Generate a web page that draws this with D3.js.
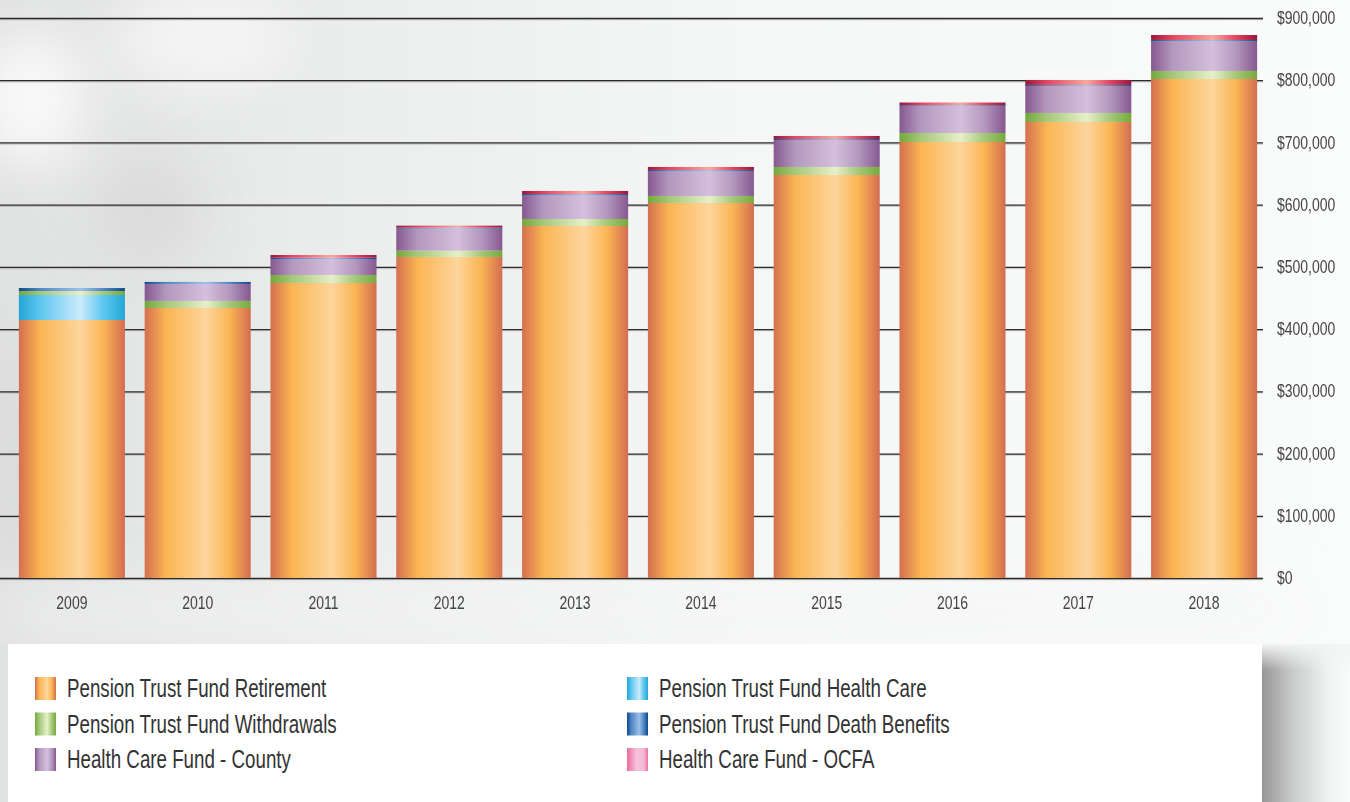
<!DOCTYPE html>
<html>
<head>
<meta charset="utf-8">
<script src="https://cdn.jsdelivr.net/npm/d3@7"></script>
<style>
  html, body { margin: 0; padding: 0; background: #f4f5f5; }
  svg { display: block; }
  text { font-family: "Liberation Sans", Arial, sans-serif; }
</style>
</head>
<body>
<svg id="chart" width="1350" height="802"></svg>
<script>
// Fiscal years shown on the x axis
const years = ["2009", "2010", "2011", "2012", "2013", "2014", "2015", "2016", "2017", "2018"];

// Series values (dollars, in thousands), bottom of the stack first
const retirement   = [414600, 434000, 474100, 516000, 565700, 602700, 647700, 700700, 732900, 802000];
const healthCare   = [40200, 0, 0, 0, 0, 0, 0, 0, 0, 0];
const withdrawals  = [6400, 11300, 12900, 10100, 11300, 11300, 12900, 14500, 14500, 12900];
const hcCounty     = [0, 27300, 25700, 35400, 38600, 40200, 43400, 43400, 43400, 48200];
const deathBenefit = [4800, 3200, 2100, 1600, 1600, 1600, 1600, 1300, 1600, 1600];
const hcOcfa       = [0, 0, 4300, 3200, 4800, 4800, 4800, 4300, 8000, 8000];

// Axis tick values
const yTicks = [0, 100000, 200000, 300000, 400000, 500000, 600000, 700000, 800000, 900000];

const seriesKeys   = ["retirement", "healthCare", "withdrawals", "hcCounty", "deathBenefit", "hcOcfa"];
const seriesValues = { retirement, healthCare, withdrawals, hcCounty, deathBenefit, hcOcfa };
const seriesNames  = {
  retirement: "Pension Trust Fund Retirement",
  healthCare: "Pension Trust Fund Health Care",
  withdrawals: "Pension Trust Fund Withdrawals",
  hcCounty: "Health Care Fund - County",
  deathBenefit: "Pension Trust Fund Death Benefits",
  hcOcfa: "Health Care Fund - OCFA"
};

// Horizontal "cylinder" shading for each series
const barStops = {
  retirement:   [[0, "#d36f4f"], [0.2, "#fbb553"], [0.58, "#fdd59c"], [0.8, "#fbb553"], [1, "#d36d50"]],
  healthCare:   [[0, "#24a6d6"], [0.2, "#5cc7ef"], [0.58, "#cdeafb"], [0.8, "#5cc7ef"], [1, "#24a6d6"]],
  withdrawals:  [[0, "#72a83a"], [0.2, "#a5c77a"], [0.58, "#e6f0c9"], [0.8, "#a5c77a"], [1, "#74aa3b"]],
  hcCounty:     [[0, "#865890"], [0.2, "#b398bd"], [0.58, "#d5bfdd"], [0.8, "#b398bd"], [1, "#865890"]],
  deathBenefit: [[0, "#0d4a8a"], [0.2, "#4f85c3"], [0.58, "#9cc0e6"], [0.8, "#4f85c3"], [1, "#0d4a8a"]],
  hcOcfa:       [[0, "#96183a"], [0.2, "#e3455e"], [0.58, "#f6a8a0"], [0.8, "#e3455e"], [1, "#96183a"]]
};
const legendStops = Object.assign({}, barStops, {
  hcOcfa: [[0, "#ec6a9e"], [0.45, "#f6c3da"], [0.8, "#f4b8d2"], [1, "#ed6fa3"]]
});

const W = 1350, H = 802;
const svg = d3.select("#chart");
const defs = svg.append("defs");

function addGradient(id, stops, vertical) {
  const g = defs.append("linearGradient").attr("id", id)
    .attr("x1", 0).attr("y1", 0).attr("x2", vertical ? 0 : 1).attr("y2", vertical ? 1 : 0);
  stops.forEach(s => g.append("stop").attr("offset", s[0]).attr("stop-color", s[1])
    .attr("stop-opacity", s[2] === undefined ? 1 : s[2]));
}
seriesKeys.forEach(k => {
  addGradient("bar-" + k, barStops[k]);
  addGradient("leg-" + k, legendStops[k]);
});
addGradient("bg", [[0, "#e0e1e1"], [0.25, "#ebecec"], [0.55, "#f5f6f6"], [1, "#fafbfb"]]);
addGradient("shadow", [[0, "#979797"], [0.35, "#c9caca"], [0.75, "#f1f2f2"], [1, "#f9fafa"]]);
addGradient("shadowTop", [[0, "#f3f4f4", 1], [1, "#f3f4f4", 0]], true);
defs.append("filter").attr("id", "soft").attr("x", "-50%").attr("y", "-50%").attr("width", "200%").attr("height", "200%")
  .append("feGaussianBlur").attr("stdDeviation", 28);

// Backdrop
svg.append("rect").attr("width", W).attr("height", H).attr("fill", "url(#bg)");
const haze = svg.append("g").attr("filter", "url(#soft)");
haze.append("ellipse").attr("cx", 30).attr("cy", 100).attr("rx", 55).attr("ry", 70).attr("fill", "#ffffff").attr("opacity", 0.8);
haze.append("ellipse").attr("cx", 200).attr("cy", 40).attr("rx", 90).attr("ry", 45).attr("fill", "#ffffff").attr("opacity", 0.6);
haze.append("ellipse").attr("cx", 150).attr("cy", 210).attr("rx", 55).attr("ry", 55).attr("fill", "#cfd0d0").attr("opacity", 0.5);
haze.append("ellipse").attr("cx", 20).attr("cy", 470).attr("rx", 40).attr("ry", 120).attr("fill", "#d4d5d5").attr("opacity", 0.45);
haze.append("rect").attr("x", 0).attr("y", 590).attr("width", 1300).attr("height", 40).attr("fill", "#f7f8f8").attr("opacity", 0.7);

// Scales
const x = d3.scaleBand().domain(years).range([9, 1267]).paddingInner(0.157).paddingOuter(0.0785);
const y = d3.scaleLinear().domain([0, 900000]).range([578, 18]);

// Condensed type: regular face squeezed horizontally
const SQ = 0.8;

// Gridlines with a soft drop line beneath each
svg.append("g").selectAll("line").data(yTicks).join("line")
  .attr("x1", 0).attr("x2", 1263).attr("y1", d => y(d) + 1.5).attr("y2", d => y(d) + 1.5)
  .attr("stroke", "#9a9a9a").attr("stroke-opacity", 0.45).attr("stroke-width", 1.5);

const yAxis = d3.axisRight(y).tickValues(yTicks).tickSize(-1263).tickPadding(14)
  .tickFormat(d => "$" + d3.format(",")(d));
const yAxisG = svg.append("g").attr("transform", "translate(1263,0)").call(yAxis);
yAxisG.select(".domain").remove();
yAxisG.selectAll(".tick line").attr("stroke", "#2b2b2b").attr("stroke-width", 1.3);
yAxisG.selectAll(".tick text").attr("fill", "#444").attr("font-size", 17.5)
  .attr("x", 14 / SQ).attr("transform", `scale(${SQ},1)`);

// Stacked bars
const rows = years.map((yr, i) => {
  const r = { year: yr };
  seriesKeys.forEach(k => r[k] = seriesValues[k][i]);
  return r;
});
const stacked = d3.stack().keys(seriesKeys)(rows);
svg.append("g").selectAll("g").data(stacked).join("g")
  .attr("fill", d => "url(#bar-" + d.key + ")")
  .selectAll("rect").data(d => d).join("rect")
  .attr("x", d => x(d.data.year))
  .attr("width", x.bandwidth())
  .attr("y", d => y(d[1]))
  .attr("height", d => Math.max(0, y(d[0]) - y(d[1])));

// Year labels
const xAxis = d3.axisBottom(x).tickSize(0).tickPadding(19);
const xAxisG = svg.append("g").attr("transform", "translate(0,578)").call(xAxis);
xAxisG.select(".domain").remove();
xAxisG.selectAll(".tick text").attr("fill", "#444").attr("font-size", 17.5)
  .attr("transform", `scale(${SQ},1)`);

// Legend panel and its shadow
svg.append("rect").attr("x", 1262).attr("y", 644).attr("width", 88).attr("height", 158).attr("fill", "url(#shadow)");
svg.append("rect").attr("x", 1262).attr("y", 644).attr("width", 88).attr("height", 26).attr("fill", "url(#shadowTop)");
svg.append("rect").attr("x", 0).attr("y", 644).attr("width", 8).attr("height", 158).attr("fill", "#e1e2e2");
svg.append("rect").attr("x", 8).attr("y", 644).attr("width", 1254).attr("height", 158).attr("fill", "#ffffff");

const legendOrder = [
  ["retirement", 0, 0], ["withdrawals", 0, 1], ["hcCounty", 0, 2],
  ["healthCare", 1, 0], ["deathBenefit", 1, 1], ["hcOcfa", 1, 2]
];
const colX = [35, 627];
const legend = svg.append("g").selectAll("g").data(legendOrder).join("g")
  .attr("transform", d => `translate(${colX[d[1]]},${677 + d[2] * 35.5})`);
legend.append("rect").attr("width", 21).attr("height", 23).attr("fill", d => "url(#leg-" + d[0] + ")");
legend.append("text").attr("transform", "translate(32,20) scale(0.75,1)")
  .attr("fill", "#333").attr("font-size", 25)
  .text(d => seriesNames[d[0]]);
</script>
</body>
</html>
